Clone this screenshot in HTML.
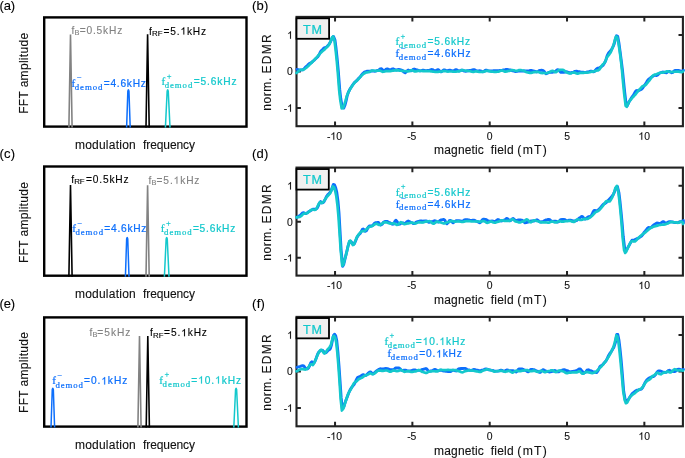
<!DOCTYPE html>
<html><head><meta charset="utf-8"><title>EDMR figure</title>
<style>html,body{margin:0;padding:0;background:#fff;overflow:hidden;}svg{display:block;will-change:transform;}text{font-kerning:none;}</style>
</head><body>
<svg width="685" height="458" viewBox="0 0 685 458">
<rect width="685" height="458" fill="#fff"/>
<text stroke="#000" stroke-width="0.12" x="-0.51" y="9.50" font-family="Liberation Sans" font-size="13" fill="#000" letter-spacing="-0.138">(a)</text>
<rect x="44.2" y="17.40" width="202.3" height="109.2" fill="none" stroke="#000" stroke-width="2.4"/>
<path d="M68.90,127.6 L70.50,34.60 L72.10,127.6" fill="none" stroke="#828282" stroke-width="1.6" stroke-linejoin="bevel"/>
<path d="M146.00,127.6 L147.60,34.30 L149.20,127.6" fill="none" stroke="#000" stroke-width="1.6" stroke-linejoin="bevel"/>
<path d="M126.60,127.6 L127.85,91.10 Q128.40,88.30 128.95,91.10 L130.20,127.6" fill="none" stroke="#0d6ffc" stroke-width="1.5" stroke-linejoin="round"/>
<path d="M165.40,127.6 L167.15,91.10 Q167.70,88.30 168.25,91.10 L170.00,127.6" fill="none" stroke="#14c8cc" stroke-width="1.5" stroke-linejoin="round"/>
<text stroke="#828282" stroke-width="0.12" x="71.56" y="33.70" font-family="Liberation Sans" font-size="10.2" fill="#828282">f</text>
<text stroke="#828282" stroke-width="0.12" x="74.49" y="34.70" font-family="Liberation Sans" font-size="7.4" fill="#828282">B</text>
<text stroke="#828282" stroke-width="0.12" x="79.70" y="33.70" font-family="Liberation Sans" font-size="10.2" fill="#828282" letter-spacing="0.817">=0.5kHz</text>
<text stroke="#000" stroke-width="0.12" x="149.06" y="34.60" font-family="Liberation Sans" font-size="10.2" fill="#000">f</text>
<text stroke="#000" stroke-width="0.12" x="151.95" y="36.20" font-family="Liberation Sans" font-size="7.9" fill="#000">RF</text>
<path transform="translate(180.47,34.60) scale(0.00498,-0.00498)" d="M763 0L583 0L583 1147C540 1106 483 1065 412 1024C342 983 279 952 223 931L223 1105C324 1152 412 1210 488 1278C563 1346 617 1412 648 1466L763 1466Z" fill="#000" stroke="#000" stroke-width="24.1"/>
<text stroke="#000" stroke-width="0.12" x="163.60" y="34.60" font-family="Liberation Sans" font-size="10.2" fill="#000" letter-spacing="0.801">=5.&#8199;kHz</text>
<text stroke="#0d6ffc" stroke-width="0.22" x="71.56" y="86.60" font-family="Liberation Serif" font-size="11.2" fill="#0d6ffc">f</text>
<text stroke="#0d6ffc" stroke-width="0.22" x="76.88" y="80.40" font-family="Liberation Serif" font-size="8.5" fill="#0d6ffc">&#8722;</text>
<text stroke="#0d6ffc" stroke-width="0.22" x="74.78" y="89.70" font-family="Liberation Serif" font-size="8.8" fill="#0d6ffc" letter-spacing="0.919">demod</text>
<text stroke="#0d6ffc" stroke-width="0.22" x="103.70" y="86.60" font-family="Liberation Sans" font-size="10.2" fill="#0d6ffc" letter-spacing="0.751">=4.6kHz</text>
<text stroke="#14c8cc" stroke-width="0.22" x="161.46" y="85.20" font-family="Liberation Serif" font-size="11.2" fill="#14c8cc">f</text>
<text stroke="#14c8cc" stroke-width="0.22" x="166.68" y="78.80" font-family="Liberation Serif" font-size="8.5" fill="#14c8cc">+</text>
<text stroke="#14c8cc" stroke-width="0.22" x="164.68" y="88.30" font-family="Liberation Serif" font-size="8.8" fill="#14c8cc" letter-spacing="0.919">demod</text>
<text stroke="#14c8cc" stroke-width="0.22" x="193.70" y="85.20" font-family="Liberation Sans" font-size="10.2" fill="#14c8cc" letter-spacing="0.884">=5.6kHz</text>
<text stroke="#111" stroke-width="0.12" x="74.90" y="148.70" font-family="Liberation Sans" font-size="12" fill="#111" letter-spacing="0.241">modulation</text>
<text stroke="#111" stroke-width="0.12" x="143.03" y="148.70" font-family="Liberation Sans" font-size="12" fill="#111" letter-spacing="-0.088">frequency</text>
<text stroke="#111" stroke-width="0.12" transform="translate(27.60,112.90) rotate(-90)" x="-0.98" y="0" font-family="Liberation Sans" font-size="12" fill="#111" letter-spacing="0.297">FFT amplitude</text>
<text stroke="#000" stroke-width="0.12" x="-0.51" y="157.90" font-family="Liberation Sans" font-size="13" fill="#000" letter-spacing="0.227">(c)</text>
<rect x="44.2" y="166.50" width="202.3" height="109.2" fill="none" stroke="#000" stroke-width="2.4"/>
<path d="M68.90,276.7 L70.50,185.00 L72.10,276.7" fill="none" stroke="#000" stroke-width="1.6" stroke-linejoin="bevel"/>
<path d="M146.00,276.7 L147.60,185.20 L149.20,276.7" fill="none" stroke="#828282" stroke-width="1.6" stroke-linejoin="bevel"/>
<path d="M125.40,276.7 L126.65,238.90 Q127.20,236.10 127.75,238.90 L129.00,276.7" fill="none" stroke="#0d6ffc" stroke-width="1.5" stroke-linejoin="round"/>
<path d="M164.40,276.7 L166.15,238.90 Q166.70,236.10 167.25,238.90 L169.00,276.7" fill="none" stroke="#14c8cc" stroke-width="1.5" stroke-linejoin="round"/>
<text stroke="#000" stroke-width="0.12" x="71.26" y="182.50" font-family="Liberation Sans" font-size="10.2" fill="#000">f</text>
<text stroke="#000" stroke-width="0.12" x="74.15" y="184.10" font-family="Liberation Sans" font-size="7.9" fill="#000">RF</text>
<text stroke="#000" stroke-width="0.12" x="85.90" y="182.50" font-family="Liberation Sans" font-size="10.2" fill="#000" letter-spacing="0.851">=0.5kHz</text>
<text stroke="#828282" stroke-width="0.12" x="148.56" y="183.80" font-family="Liberation Sans" font-size="10.2" fill="#828282">f</text>
<text stroke="#828282" stroke-width="0.12" x="151.49" y="184.80" font-family="Liberation Sans" font-size="7.4" fill="#828282">B</text>
<path transform="translate(173.62,183.80) scale(0.00498,-0.00498)" d="M763 0L583 0L583 1147C540 1106 483 1065 412 1024C342 983 279 952 223 931L223 1105C324 1152 412 1210 488 1278C563 1346 617 1412 648 1466L763 1466Z" fill="#828282" stroke="#828282" stroke-width="24.1"/>
<text stroke="#828282" stroke-width="0.12" x="156.50" y="183.80" font-family="Liberation Sans" font-size="10.2" fill="#828282" letter-spacing="0.884">=5.&#8199;kHz</text>
<text stroke="#0d6ffc" stroke-width="0.22" x="72.26" y="232.20" font-family="Liberation Serif" font-size="11.2" fill="#0d6ffc">f</text>
<text stroke="#0d6ffc" stroke-width="0.22" x="77.58" y="226.00" font-family="Liberation Serif" font-size="8.5" fill="#0d6ffc">&#8722;</text>
<text stroke="#0d6ffc" stroke-width="0.22" x="75.48" y="235.30" font-family="Liberation Serif" font-size="8.8" fill="#0d6ffc" letter-spacing="0.919">demod</text>
<text stroke="#0d6ffc" stroke-width="0.22" x="104.30" y="232.20" font-family="Liberation Sans" font-size="10.2" fill="#0d6ffc" letter-spacing="0.751">=4.6kHz</text>
<text stroke="#14c8cc" stroke-width="0.22" x="160.86" y="232.30" font-family="Liberation Serif" font-size="11.2" fill="#14c8cc">f</text>
<text stroke="#14c8cc" stroke-width="0.22" x="166.08" y="225.90" font-family="Liberation Serif" font-size="8.5" fill="#14c8cc">+</text>
<text stroke="#14c8cc" stroke-width="0.22" x="164.08" y="235.40" font-family="Liberation Serif" font-size="8.8" fill="#14c8cc" letter-spacing="0.919">demod</text>
<text stroke="#14c8cc" stroke-width="0.22" x="192.90" y="232.30" font-family="Liberation Sans" font-size="10.2" fill="#14c8cc" letter-spacing="0.784">=5.6kHz</text>
<text stroke="#111" stroke-width="0.12" x="74.90" y="297.80" font-family="Liberation Sans" font-size="12" fill="#111" letter-spacing="0.241">modulation</text>
<text stroke="#111" stroke-width="0.12" x="143.03" y="297.80" font-family="Liberation Sans" font-size="12" fill="#111" letter-spacing="-0.088">frequency</text>
<text stroke="#111" stroke-width="0.12" transform="translate(27.60,262.10) rotate(-90)" x="-0.98" y="0" font-family="Liberation Sans" font-size="12" fill="#111" letter-spacing="0.297">FFT amplitude</text>
<text stroke="#000" stroke-width="0.12" x="-0.51" y="307.50" font-family="Liberation Sans" font-size="13" fill="#000" letter-spacing="-0.138">(e)</text>
<rect x="44.2" y="317.40" width="202.3" height="109.2" fill="none" stroke="#000" stroke-width="2.4"/>
<path d="M137.90,427.6 L139.50,335.90 L141.10,427.6" fill="none" stroke="#828282" stroke-width="1.6" stroke-linejoin="bevel"/>
<path d="M146.20,427.6 L147.80,336.00 L149.40,427.6" fill="none" stroke="#000" stroke-width="1.6" stroke-linejoin="bevel"/>
<path d="M51.00,427.6 L52.25,389.70 Q52.80,386.90 53.35,389.70 L54.60,427.6" fill="none" stroke="#0d6ffc" stroke-width="1.5" stroke-linejoin="round"/>
<path d="M233.80,427.6 L235.55,389.70 Q236.10,386.90 236.65,389.70 L238.40,427.6" fill="none" stroke="#14c8cc" stroke-width="1.5" stroke-linejoin="round"/>
<text stroke="#828282" stroke-width="0.12" x="89.46" y="336.20" font-family="Liberation Sans" font-size="10.2" fill="#828282">f</text>
<text stroke="#828282" stroke-width="0.12" x="92.39" y="337.20" font-family="Liberation Sans" font-size="7.4" fill="#828282">B</text>
<text stroke="#828282" stroke-width="0.12" x="97.30" y="336.20" font-family="Liberation Sans" font-size="10.2" fill="#828282" letter-spacing="1.003">=5kHz</text>
<text stroke="#000" stroke-width="0.12" x="150.06" y="336.30" font-family="Liberation Sans" font-size="10.2" fill="#000">f</text>
<text stroke="#000" stroke-width="0.12" x="152.95" y="337.90" font-family="Liberation Sans" font-size="7.9" fill="#000">RF</text>
<path transform="translate(181.17,336.30) scale(0.00498,-0.00498)" d="M763 0L583 0L583 1147C540 1106 483 1065 412 1024C342 983 279 952 223 931L223 1105C324 1152 412 1210 488 1278C563 1346 617 1412 648 1466L763 1466Z" fill="#000" stroke="#000" stroke-width="24.1"/>
<text stroke="#000" stroke-width="0.12" x="164.10" y="336.30" font-family="Liberation Sans" font-size="10.2" fill="#000" letter-spacing="0.867">=5.&#8199;kHz</text>
<text stroke="#0d6ffc" stroke-width="0.22" x="52.16" y="384.40" font-family="Liberation Serif" font-size="11.2" fill="#0d6ffc">f</text>
<text stroke="#0d6ffc" stroke-width="0.22" x="57.48" y="378.20" font-family="Liberation Serif" font-size="8.5" fill="#0d6ffc">&#8722;</text>
<text stroke="#0d6ffc" stroke-width="0.22" x="55.38" y="387.50" font-family="Liberation Serif" font-size="8.8" fill="#0d6ffc" letter-spacing="0.919">demod</text>
<path transform="translate(101.32,384.40) scale(0.00498,-0.00498)" d="M763 0L583 0L583 1147C540 1106 483 1065 412 1024C342 983 279 952 223 931L223 1105C324 1152 412 1210 488 1278C563 1346 617 1412 648 1466L763 1466Z" fill="#0d6ffc" stroke="#0d6ffc" stroke-width="44.2"/>
<text stroke="#0d6ffc" stroke-width="0.22" x="84.10" y="384.40" font-family="Liberation Sans" font-size="10.2" fill="#0d6ffc" letter-spacing="0.917">=0.&#8199;kHz</text>
<text stroke="#14c8cc" stroke-width="0.22" x="159.36" y="383.50" font-family="Liberation Serif" font-size="11.2" fill="#14c8cc">f</text>
<text stroke="#14c8cc" stroke-width="0.22" x="164.58" y="377.10" font-family="Liberation Serif" font-size="8.5" fill="#14c8cc">+</text>
<text stroke="#14c8cc" stroke-width="0.22" x="162.58" y="386.60" font-family="Liberation Serif" font-size="8.8" fill="#14c8cc" letter-spacing="0.919">demod</text>
<path transform="translate(198.18,383.50) scale(0.00498,-0.00498)" d="M763 0L583 0L583 1147C540 1106 483 1065 412 1024C342 983 279 952 223 931L223 1105C324 1152 412 1210 488 1278C563 1346 617 1412 648 1466L763 1466Z" fill="#14c8cc" stroke="#14c8cc" stroke-width="44.2"/>
<path transform="translate(215.11,383.50) scale(0.00498,-0.00498)" d="M763 0L583 0L583 1147C540 1106 483 1065 412 1024C342 983 279 952 223 931L223 1105C324 1152 412 1210 488 1278C563 1346 617 1412 648 1466L763 1466Z" fill="#14c8cc" stroke="#14c8cc" stroke-width="44.2"/>
<text stroke="#14c8cc" stroke-width="0.22" x="191.30" y="383.50" font-family="Liberation Sans" font-size="10.2" fill="#14c8cc" letter-spacing="0.919">=&#8199;0.&#8199;kHz</text>
<text stroke="#111" stroke-width="0.12" x="74.90" y="448.60" font-family="Liberation Sans" font-size="12" fill="#111" letter-spacing="0.241">modulation</text>
<text stroke="#111" stroke-width="0.12" x="143.03" y="448.60" font-family="Liberation Sans" font-size="12" fill="#111" letter-spacing="-0.088">frequency</text>
<text stroke="#111" stroke-width="0.12" transform="translate(27.60,412.00) rotate(-90)" x="-0.98" y="0" font-family="Liberation Sans" font-size="12" fill="#111" letter-spacing="0.297">FFT amplitude</text>
<text stroke="#000" stroke-width="0.12" x="252.09" y="9.50" font-family="Liberation Sans" font-size="13" fill="#000" letter-spacing="0.162">(b)</text>
<clipPath id="clipb"><rect x="294.5" y="16.9" width="390.4" height="109.30000000000001"/></clipPath>
<rect x="296.5" y="16.9" width="386.40" height="109.30" fill="none" stroke="#222222" stroke-width="2.1"/>
<path transform="translate(330.37,139.70) scale(0.00508,-0.00508)" d="M763 0L583 0L583 1147C540 1106 483 1065 412 1024C342 983 279 952 223 931L223 1105C324 1152 412 1210 488 1278C563 1346 617 1412 648 1466L763 1466Z" fill="#111" stroke="#111" stroke-width="23.6"/>
<text stroke="#111" stroke-width="0.12" x="326.91" y="139.70" font-family="Liberation Sans" font-size="10.4" fill="#111">-&#8199;0</text>
<text stroke="#111" stroke-width="0.12" x="407.14" y="139.70" font-family="Liberation Sans" font-size="10.4" fill="#111">-5</text>
<text stroke="#111" stroke-width="0.12" x="486.81" y="139.70" font-family="Liberation Sans" font-size="10.4" fill="#111">0</text>
<text stroke="#111" stroke-width="0.12" x="564.14" y="139.70" font-family="Liberation Sans" font-size="10.4" fill="#111">5</text>
<path transform="translate(638.37,139.70) scale(0.00508,-0.00508)" d="M763 0L583 0L583 1147C540 1106 483 1065 412 1024C342 983 279 952 223 931L223 1105C324 1152 412 1210 488 1278C563 1346 617 1412 648 1466L763 1466Z" fill="#111" stroke="#111" stroke-width="23.6"/>
<text stroke="#111" stroke-width="0.12" x="638.37" y="139.70" font-family="Liberation Sans" font-size="10.4" fill="#111">&#8199;0</text>
<path transform="translate(287.12,38.80) scale(0.00508,-0.00508)" d="M763 0L583 0L583 1147C540 1106 483 1065 412 1024C342 983 279 952 223 931L223 1105C324 1152 412 1210 488 1278C563 1346 617 1412 648 1466L763 1466Z" fill="#111" stroke="#111" stroke-width="23.6"/>
<text stroke="#111" stroke-width="0.12" x="287.12" y="38.80" font-family="Liberation Sans" font-size="10.4" fill="#111">&#8199;</text>
<text stroke="#111" stroke-width="0.12" x="287.02" y="75.30" font-family="Liberation Sans" font-size="10.4" fill="#111">0</text>
<path transform="translate(287.12,111.80) scale(0.00508,-0.00508)" d="M763 0L583 0L583 1147C540 1106 483 1065 412 1024C342 983 279 952 223 931L223 1105C324 1152 412 1210 488 1278C563 1346 617 1412 648 1466L763 1466Z" fill="#111" stroke="#111" stroke-width="23.6"/>
<text stroke="#111" stroke-width="0.12" x="283.66" y="111.80" font-family="Liberation Sans" font-size="10.4" fill="#111">-&#8199;</text>
<path d="M335.05,126.2 v-4.6 M335.05,16.9 v4.6 M412.38,126.2 v-4.6 M412.38,16.9 v4.6 M489.70,126.2 v-4.6 M489.70,16.9 v4.6 M567.02,126.2 v-4.6 M567.02,16.9 v4.6 M644.35,126.2 v-4.6 M644.35,16.9 v4.6 M296.5,35.00 h4.4 M682.9,35.00 h-4.4 M296.5,71.50 h4.4 M682.9,71.50 h-4.4 M296.5,108.00 h4.4 M682.9,108.00 h-4.4" stroke="#222222" stroke-width="2.0" fill="none"/>
<g clip-path="url(#clipb)">
<path d="M297.00,69.41 L298.16,69.58 L299.24,70.05 L300.44,69.99 L301.69,69.92 L302.86,69.72 L303.96,68.93 L305.05,67.65 L306.12,66.69 L307.18,65.73 L308.24,64.58 L309.30,63.65 L310.36,63.14 L311.41,62.63 L312.46,61.67 L313.51,60.75 L314.57,59.81 L315.64,58.73 L316.72,57.77 L317.82,56.70 L318.91,55.02 L319.97,52.76 L321.00,51.12 L322.09,49.97 L323.15,48.90 L324.18,47.91 L325.64,47.42 L326.66,46.99 L327.73,45.85 L328.73,44.59 L330.10,42.56 L331.38,39.90 L332.50,37.40 L333.55,36.42 L335.00,40.10 L336.06,48.28 L337.19,58.96 L338.25,70.34 L339.70,89.14 L340.73,98.34 L342.20,106.99 L343.72,108.05 L344.94,105.28 L346.10,100.89 L347.10,96.13 L348.50,91.98 L349.89,89.26 L350.98,87.48 L352.13,85.75 L353.29,84.01 L354.40,82.53 L355.49,81.60 L356.59,80.74 L357.69,79.52 L358.76,78.33 L359.80,77.21 L360.89,75.95 L362.00,74.49 L363.07,73.27 L364.12,72.38 L365.20,71.76 L366.70,71.25 L367.70,71.21 L368.70,71.23 L370.20,71.21 L371.26,71.07 L372.64,70.97 L373.66,71.09 L375.10,71.18 L376.42,70.80 L377.56,70.42 L378.79,70.08 L380.13,68.96 L381.55,68.79 L383.05,70.24 L384.08,70.71 L385.15,70.12 L386.23,69.16 L387.34,68.91 L388.46,69.38 L389.59,69.88 L390.74,69.76 L391.90,69.14 L393.06,68.80 L394.22,69.24 L395.38,69.92 L396.53,70.00 L397.68,69.66 L398.82,69.39 L399.94,69.58 L400.96,70.01 L402.37,70.33 L403.79,71.95 L405.23,72.84 L406.69,71.19 L408.17,70.07 L409.66,70.53 L411.16,70.85 L412.17,70.27 L413.18,69.37 L414.19,69.07 L415.21,69.38 L416.23,69.83 L417.26,70.00 L418.28,70.31 L419.30,70.72 L420.33,70.81 L421.36,70.57 L422.38,70.28 L423.40,70.24 L424.43,70.42 L425.45,70.61 L426.46,70.63 L427.48,70.54 L428.49,70.45 L429.50,70.37 L430.50,69.97 L431.50,69.56 L432.50,69.58 L433.50,70.16 L434.50,70.73 L435.50,70.74 L436.50,70.23 L437.50,69.72 L438.50,69.78 L439.50,70.76 L440.50,71.74 L441.50,71.75 L442.50,70.86 L443.50,69.98 L444.50,69.90 L445.50,70.33 L446.50,70.75 L447.50,70.77 L448.50,70.51 L449.50,70.25 L450.50,70.25 L451.50,70.59 L452.50,70.94 L453.50,70.89 L454.50,70.31 L455.50,69.74 L456.50,69.73 L457.50,70.32 L458.50,70.91 L459.50,70.93 L460.50,70.52 L461.50,70.11 L462.50,70.13 L463.50,70.65 L464.50,71.16 L465.50,71.21 L466.50,70.99 L467.50,70.76 L468.50,70.71 L469.50,70.54 L470.50,70.38 L471.50,70.31 L472.50,69.99 L473.50,69.66 L474.50,69.71 L475.50,70.29 L476.50,70.88 L477.50,70.96 L478.50,70.87 L479.50,70.77 L480.50,70.83 L481.50,71.28 L482.50,71.72 L483.50,71.68 L484.50,70.95 L485.50,70.22 L486.50,70.16 L487.50,70.51 L488.50,70.86 L489.50,70.92 L490.50,70.90 L491.51,70.89 L492.52,70.87 L493.55,70.78 L494.58,70.69 L495.62,70.67 L496.66,70.64 L497.71,70.60 L498.76,70.59 L499.81,70.57 L500.87,70.55 L501.93,70.40 L502.98,70.04 L504.03,69.86 L505.08,69.74 L506.12,69.55 L507.16,69.47 L508.20,69.64 L509.22,69.89 L510.24,69.98 L511.24,70.26 L512.73,70.76 L514.19,71.03 L515.61,71.51 L517.00,71.42 L518.35,71.13 L519.66,71.09 L521.12,71.14 L522.35,71.14 L523.57,71.03 L524.76,70.93 L525.93,70.92 L527.08,70.89 L528.20,70.88 L529.30,70.72 L530.38,70.52 L531.42,70.51 L532.44,70.74 L533.92,71.03 L535.32,71.41 L536.65,71.93 L537.90,71.64 L539.07,70.67 L540.16,70.34 L541.40,70.32 L542.84,70.38 L543.92,71.15 L545.11,72.93 L546.17,73.75 L547.50,73.19 L548.95,72.35 L549.96,72.32 L550.98,72.41 L552.02,72.32 L553.04,72.04 L554.05,71.76 L555.50,71.38 L556.55,70.47 L557.57,69.63 L559.06,70.27 L560.53,72.24 L562.00,72.33 L563.00,72.17 L564.02,72.25 L565.04,72.17 L566.06,71.81 L567.07,71.83 L568.55,72.50 L570.04,72.93 L571.09,72.78 L572.12,72.43 L573.61,72.06 L575.04,71.32 L576.52,71.13 L577.88,71.57 L579.33,71.80 L580.50,71.96 L581.93,72.09 L582.99,72.18 L584.11,72.44 L585.24,72.48 L586.36,72.24 L587.42,71.98 L589.01,71.66 L590.15,71.28 L591.22,71.13 L592.24,71.42 L593.25,71.77 L594.30,71.56 L595.39,70.33 L596.49,68.85 L597.59,68.15 L598.66,68.05 L599.70,67.78 L600.80,66.98 L602.01,66.10 L603.17,65.06 L604.22,63.52 L605.78,60.31 L607.20,55.76 L608.61,52.98 L609.70,51.69 L610.74,50.65 L611.86,48.93 L613.03,46.55 L614.10,44.15 L615.36,39.35 L616.50,35.78 L617.67,36.35 L618.89,42.68 L620.07,51.33 L621.28,60.74 L622.47,70.22 L623.60,81.40 L624.70,92.26 L626.17,104.79 L627.25,105.74 L628.38,103.28 L629.70,100.69 L631.20,98.33 L632.31,96.64 L633.60,94.94 L635.06,92.11 L636.15,90.64 L637.27,90.55 L638.40,90.86 L639.50,90.12 L640.57,89.65 L641.65,89.13 L642.72,87.95 L643.79,86.30 L644.86,84.85 L645.94,83.40 L647.01,81.42 L648.08,79.90 L649.15,78.94 L650.23,78.11 L651.30,77.21 L652.35,76.51 L653.37,75.89 L654.39,75.20 L655.45,75.29 L656.59,75.56 L657.66,75.00 L659.09,73.46 L660.59,72.75 L661.64,72.37 L662.72,72.04 L663.84,72.11 L665.00,72.67 L666.46,72.75 L667.49,72.06 L668.55,71.37 L669.63,71.42 L670.72,72.21 L671.80,72.78 L672.86,72.34 L673.90,71.17 L675.45,70.43 L676.61,70.43 L677.79,70.40 L678.96,70.53 L680.10,70.99 L681.15,71.10 L682.51,71.26 L683.50,70.25" fill="none" stroke="#0d6ffc" stroke-width="2.9" stroke-linejoin="round" stroke-linecap="round"/>
<path d="M296.50,72.96 L297.66,72.18 L298.74,70.98 L299.94,70.03 L301.19,69.86 L302.36,69.91 L303.46,69.68 L304.55,69.05 L305.62,68.23 L306.68,67.36 L307.74,66.52 L308.80,65.53 L309.86,64.42 L310.91,63.31 L311.96,62.27 L313.01,61.23 L314.07,60.14 L315.14,58.99 L316.22,57.78 L317.32,56.53 L318.41,55.27 L319.47,54.13 L320.50,53.12 L321.59,52.06 L322.65,51.07 L323.68,50.22 L325.14,48.89 L326.16,47.85 L327.23,46.85 L328.23,45.84 L329.60,43.86 L330.88,40.55 L332.00,37.41 L333.05,36.42 L334.50,40.72 L335.56,49.22 L336.69,60.21 L337.75,71.91 L339.20,90.64 L340.23,99.88 L341.70,108.43 L343.22,107.94 L344.44,104.19 L345.60,100.42 L346.60,96.81 L348.00,93.08 L349.39,90.35 L350.48,88.58 L351.63,86.86 L352.79,85.10 L353.90,83.50 L354.99,82.23 L356.09,81.32 L357.19,80.40 L358.26,79.23 L359.30,78.08 L360.39,76.88 L361.50,75.64 L362.57,74.61 L363.62,73.79 L364.70,73.12 L366.20,72.54 L367.20,72.37 L368.20,72.28 L369.70,71.87 L370.76,71.10 L372.14,70.60 L373.16,70.62 L374.60,70.78 L375.92,70.82 L377.06,70.72 L378.29,70.57 L379.63,70.53 L381.05,71.13 L382.55,71.80 L383.58,71.76 L384.65,71.47 L385.73,71.16 L386.84,71.08 L387.96,71.12 L389.09,71.18 L390.24,71.20 L391.40,71.01 L392.56,70.69 L393.72,70.53 L394.88,70.47 L396.03,70.35 L397.18,70.29 L398.32,70.37 L399.44,70.58 L400.46,70.72 L401.87,70.79 L403.29,70.98 L404.73,71.07 L406.19,71.25 L407.67,71.45 L409.16,71.22 L410.66,70.47 L411.67,70.24 L412.68,70.46 L413.69,70.96 L414.71,71.39 L415.73,71.45 L416.76,71.23 L417.78,70.91 L418.80,70.76 L419.83,70.81 L420.86,70.91 L421.88,71.00 L422.90,71.03 L423.93,71.07 L424.95,71.14 L425.96,71.17 L426.98,71.17 L427.99,71.15 L429.00,71.13 L430.00,71.14 L431.00,71.29 L432.00,71.53 L433.00,71.69 L434.00,71.72 L435.00,71.81 L436.00,71.91 L437.00,71.94 L438.00,71.86 L439.00,71.71 L440.00,71.59 L441.00,71.54 L442.00,71.35 L443.00,71.10 L444.00,70.97 L445.00,71.05 L446.00,71.28 L447.00,71.50 L448.00,71.54 L449.00,71.52 L450.00,71.50 L451.00,71.48 L452.00,71.50 L453.00,71.61 L454.00,71.73 L455.00,71.77 L456.00,71.68 L457.00,71.52 L458.00,71.39 L459.00,71.32 L460.00,70.93 L461.00,70.43 L462.00,70.18 L463.00,70.26 L464.00,70.49 L465.00,70.69 L466.00,70.76 L467.00,70.83 L468.00,70.94 L469.00,71.01 L470.00,71.10 L471.00,71.43 L472.00,71.78 L473.00,71.92 L474.00,71.79 L475.00,71.52 L476.00,71.31 L477.00,71.33 L478.00,71.56 L479.00,71.85 L480.00,72.01 L481.00,71.96 L482.00,71.82 L483.00,71.68 L484.00,71.64 L485.00,71.39 L486.00,71.00 L487.00,70.75 L488.00,70.81 L489.00,71.10 L490.00,71.42 L491.01,71.54 L492.02,71.61 L493.05,71.74 L494.08,71.84 L495.12,71.84 L496.16,71.80 L497.21,71.75 L498.26,71.73 L499.31,71.41 L500.37,70.87 L501.43,70.51 L502.48,70.62 L503.53,71.10 L504.58,71.57 L505.62,71.66 L506.66,71.46 L507.70,71.16 L508.72,70.99 L509.74,70.85 L510.74,70.46 L512.23,69.99 L513.69,70.21 L515.11,70.77 L516.50,70.91 L517.85,70.51 L519.16,70.09 L520.62,70.11 L521.85,70.34 L523.07,70.50 L524.26,70.79 L525.43,71.63 L526.58,72.23 L527.70,72.35 L528.80,72.64 L529.88,72.90 L530.92,72.93 L531.94,72.67 L533.42,72.19 L534.82,72.10 L536.15,71.94 L537.40,71.84 L538.57,72.02 L539.66,72.49 L540.90,72.98 L542.34,73.05 L543.42,72.90 L544.61,73.01 L545.67,73.27 L547.00,72.99 L548.45,72.57 L549.46,72.24 L550.48,71.62 L551.52,71.03 L552.54,70.79 L553.55,71.23 L555.00,72.19 L556.05,72.21 L557.07,71.51 L558.56,70.21 L560.03,69.92 L561.50,69.75 L562.50,69.75 L563.52,70.06 L564.54,70.86 L565.56,71.77 L566.57,72.32 L568.05,72.91 L569.54,73.36 L570.59,73.36 L571.62,73.09 L573.11,72.57 L574.54,72.53 L576.02,73.21 L577.38,73.59 L578.83,73.33 L580.00,72.95 L581.43,72.78 L582.49,72.78 L583.61,72.78 L584.74,72.72 L585.86,72.68 L586.92,72.65 L588.51,72.52 L589.65,72.21 L590.72,71.86 L591.74,71.64 L592.75,71.56 L593.80,71.45 L594.89,71.14 L595.99,70.68 L597.09,70.54 L598.16,70.34 L599.20,69.66 L600.30,68.12 L601.51,66.05 L602.67,64.59 L603.72,63.63 L605.28,61.61 L606.70,57.63 L608.11,55.75 L609.20,54.50 L610.24,53.06 L611.36,50.80 L612.53,47.85 L613.60,44.87 L614.86,39.98 L616.00,36.43 L617.17,36.92 L618.39,42.69 L619.57,50.33 L620.78,59.43 L621.97,70.20 L623.10,82.79 L624.20,93.78 L625.67,105.85 L626.75,106.76 L627.88,104.13 L629.20,101.49 L630.70,99.75 L631.81,98.46 L633.10,96.98 L634.56,95.39 L635.65,94.21 L636.77,92.69 L637.90,91.19 L639.00,90.02 L640.07,88.83 L641.15,87.61 L642.22,86.48 L643.29,85.87 L644.36,85.66 L645.44,85.13 L646.51,83.97 L647.58,82.60 L648.65,81.26 L649.73,80.10 L650.80,78.52 L651.85,76.82 L652.87,75.58 L653.89,74.94 L654.95,74.63 L656.09,74.35 L657.16,73.88 L658.59,73.22 L660.09,72.75 L661.14,72.61 L662.22,72.54 L663.34,72.46 L664.50,72.24 L665.96,71.67 L666.99,71.39 L668.05,71.40 L669.13,71.70 L670.22,71.99 L671.30,72.01 L672.36,71.94 L673.40,71.86 L674.95,71.75 L676.11,71.72 L677.29,71.70 L678.46,71.63 L679.60,71.80 L680.65,72.06 L682.01,72.08 L683.00,71.35" fill="none" stroke="#14c8cc" stroke-width="2.7" stroke-linejoin="round" stroke-linecap="round"/>
</g>
<text stroke="#14c8cc" stroke-width="0.22" x="395.56" y="45.20" font-family="Liberation Serif" font-size="11.2" fill="#14c8cc">f</text>
<text stroke="#14c8cc" stroke-width="0.22" x="400.58" y="38.50" font-family="Liberation Serif" font-size="8.5" fill="#14c8cc">+</text>
<text stroke="#14c8cc" stroke-width="0.22" x="398.78" y="47.90" font-family="Liberation Serif" font-size="8.8" fill="#14c8cc" letter-spacing="0.844">demod</text>
<text stroke="#14c8cc" stroke-width="0.22" x="427.50" y="45.20" font-family="Liberation Sans" font-size="10.2" fill="#14c8cc" letter-spacing="0.817">=5.6kHz</text>
<text stroke="#0d6ffc" stroke-width="0.22" x="395.56" y="57.10" font-family="Liberation Serif" font-size="11.2" fill="#0d6ffc">f</text>
<text stroke="#0d6ffc" stroke-width="0.22" x="401.08" y="50.70" font-family="Liberation Serif" font-size="8.5" fill="#0d6ffc">&#8722;</text>
<text stroke="#0d6ffc" stroke-width="0.22" x="398.78" y="59.80" font-family="Liberation Serif" font-size="8.8" fill="#0d6ffc" letter-spacing="0.844">demod</text>
<text stroke="#0d6ffc" stroke-width="0.22" x="427.50" y="57.10" font-family="Liberation Sans" font-size="10.2" fill="#0d6ffc" letter-spacing="0.917">=4.6kHz</text>
<rect x="296.5" y="18.3" width="32.6" height="20.5" fill="#f0f0f0" stroke="#000" stroke-width="1.8"/>
<text stroke="#14c8cc" stroke-width="0.22" x="302.92" y="33.60" font-family="Liberation Sans" font-size="12.6" fill="#14c8cc" letter-spacing="0.924">TM</text>
<text stroke="#111" stroke-width="0.12" x="434.10" y="153.50" font-family="Liberation Sans" font-size="12" fill="#111" letter-spacing="0.146">magnetic</text>
<text stroke="#111" stroke-width="0.12" x="490.73" y="153.50" font-family="Liberation Sans" font-size="12" fill="#111" letter-spacing="0.207">field</text>
<text stroke="#111" stroke-width="0.12" x="517.34" y="153.50" font-family="Liberation Sans" font-size="12.2" fill="#111" letter-spacing="1.291">(mT)</text>
<text stroke="#111" stroke-width="0.12" transform="translate(271.10,110.00) rotate(-90)" x="-0.80" y="0" font-family="Liberation Sans" font-size="12" fill="#111" letter-spacing="0.605">norm.</text>
<text stroke="#111" stroke-width="0.12" transform="translate(271.10,72.50) rotate(-90)" x="-0.98" y="0" font-family="Liberation Sans" font-size="12" fill="#111" letter-spacing="1.303">EDMR</text>
<text stroke="#000" stroke-width="0.12" x="252.09" y="157.90" font-family="Liberation Sans" font-size="13" fill="#000" letter-spacing="0.162">(d)</text>
<clipPath id="clipd"><rect x="294.5" y="167.6" width="390.4" height="108.00000000000003"/></clipPath>
<rect x="296.5" y="167.6" width="386.40" height="108.00" fill="none" stroke="#222222" stroke-width="2.1"/>
<path transform="translate(330.37,289.10) scale(0.00508,-0.00508)" d="M763 0L583 0L583 1147C540 1106 483 1065 412 1024C342 983 279 952 223 931L223 1105C324 1152 412 1210 488 1278C563 1346 617 1412 648 1466L763 1466Z" fill="#111" stroke="#111" stroke-width="23.6"/>
<text stroke="#111" stroke-width="0.12" x="326.91" y="289.10" font-family="Liberation Sans" font-size="10.4" fill="#111">-&#8199;0</text>
<text stroke="#111" stroke-width="0.12" x="407.14" y="289.10" font-family="Liberation Sans" font-size="10.4" fill="#111">-5</text>
<text stroke="#111" stroke-width="0.12" x="486.81" y="289.10" font-family="Liberation Sans" font-size="10.4" fill="#111">0</text>
<text stroke="#111" stroke-width="0.12" x="564.14" y="289.10" font-family="Liberation Sans" font-size="10.4" fill="#111">5</text>
<path transform="translate(638.37,289.10) scale(0.00508,-0.00508)" d="M763 0L583 0L583 1147C540 1106 483 1065 412 1024C342 983 279 952 223 931L223 1105C324 1152 412 1210 488 1278C563 1346 617 1412 648 1466L763 1466Z" fill="#111" stroke="#111" stroke-width="23.6"/>
<text stroke="#111" stroke-width="0.12" x="638.37" y="289.10" font-family="Liberation Sans" font-size="10.4" fill="#111">&#8199;0</text>
<path transform="translate(287.12,189.50) scale(0.00508,-0.00508)" d="M763 0L583 0L583 1147C540 1106 483 1065 412 1024C342 983 279 952 223 931L223 1105C324 1152 412 1210 488 1278C563 1346 617 1412 648 1466L763 1466Z" fill="#111" stroke="#111" stroke-width="23.6"/>
<text stroke="#111" stroke-width="0.12" x="287.12" y="189.50" font-family="Liberation Sans" font-size="10.4" fill="#111">&#8199;</text>
<text stroke="#111" stroke-width="0.12" x="287.02" y="225.55" font-family="Liberation Sans" font-size="10.4" fill="#111">0</text>
<path transform="translate(287.12,261.60) scale(0.00508,-0.00508)" d="M763 0L583 0L583 1147C540 1106 483 1065 412 1024C342 983 279 952 223 931L223 1105C324 1152 412 1210 488 1278C563 1346 617 1412 648 1466L763 1466Z" fill="#111" stroke="#111" stroke-width="23.6"/>
<text stroke="#111" stroke-width="0.12" x="283.66" y="261.60" font-family="Liberation Sans" font-size="10.4" fill="#111">-&#8199;</text>
<path d="M335.05,275.6 v-4.6 M335.05,167.6 v4.6 M412.38,275.6 v-4.6 M412.38,167.6 v4.6 M489.70,275.6 v-4.6 M489.70,167.6 v4.6 M567.02,275.6 v-4.6 M567.02,167.6 v4.6 M644.35,275.6 v-4.6 M644.35,167.6 v4.6 M296.5,185.70 h4.4 M682.9,185.70 h-4.4 M296.5,221.75 h4.4 M682.9,221.75 h-4.4 M296.5,257.80 h4.4 M682.9,257.80 h-4.4" stroke="#222222" stroke-width="2.0" fill="none"/>
<g clip-path="url(#clipd)">
<path d="M297.00,217.26 L298.10,216.60 L299.12,215.88 L300.27,215.21 L301.47,214.04 L302.65,212.87 L303.73,212.63 L304.82,213.30 L305.99,213.54 L307.09,212.86 L308.11,212.07 L309.50,211.28 L310.78,210.58 L311.84,209.90 L312.90,209.30 L313.99,209.12 L315.07,209.14 L316.20,208.99 L317.28,207.93 L318.42,205.52 L319.51,202.93 L320.58,201.66 L322.07,202.91 L323.17,202.55 L324.25,201.24 L325.41,198.82 L326.56,196.33 L327.69,194.87 L328.86,193.64 L329.97,192.49 L331.00,191.01 L332.23,187.46 L333.34,184.38 L334.49,184.81 L335.69,187.87 L336.80,192.44 L337.98,201.09 L339.00,212.95 L340.13,232.61 L341.15,250.35 L342.70,266.27 L343.74,264.40 L344.94,259.14 L346.10,254.31 L347.17,249.97 L348.20,245.49 L349.74,241.19 L350.90,241.44 L352.29,243.44 L353.35,244.38 L354.38,243.69 L355.88,240.23 L356.95,237.49 L358.00,235.69 L359.06,234.58 L360.14,233.51 L361.20,231.65 L362.24,229.55 L363.28,228.89 L364.28,230.02 L365.30,231.34 L366.36,230.76 L367.42,228.75 L368.48,226.78 L369.49,225.98 L370.87,225.95 L371.90,225.93 L372.93,225.20 L374.41,223.34 L375.48,222.76 L376.54,222.57 L377.54,222.45 L378.59,222.55 L379.70,223.92 L380.73,225.06 L382.20,224.31 L383.46,222.25 L384.97,221.40 L386.16,221.39 L387.35,221.53 L388.70,222.28 L390.20,222.92 L391.28,223.48 L392.41,224.19 L393.61,223.97 L394.86,221.51 L395.91,220.16 L397.20,221.64 L398.53,224.21 L399.92,224.10 L401.37,223.09 L402.86,222.98 L403.89,223.27 L404.93,223.41 L406.00,222.79 L407.10,221.56 L408.21,221.06 L409.34,221.61 L410.50,222.32 L411.84,222.63 L413.23,223.55 L414.66,223.49 L416.13,222.11 L417.63,221.62 L418.65,221.30 L419.67,221.03 L420.70,221.00 L421.74,221.07 L422.78,221.12 L423.82,221.07 L424.86,220.98 L425.90,220.91 L426.94,221.21 L427.97,221.94 L428.99,222.31 L430.00,222.11 L431.49,221.61 L432.93,221.36 L434.34,220.81 L435.73,220.88 L437.10,221.80 L438.48,221.94 L439.88,220.58 L441.30,219.89 L442.76,219.63 L443.76,219.47 L444.80,220.17 L445.86,222.43 L446.96,223.80 L448.09,222.75 L449.27,220.76 L450.50,220.43 L451.77,221.87 L453.10,222.76 L454.46,221.82 L455.86,220.80 L457.30,220.71 L458.76,220.60 L460.26,220.90 L461.27,221.29 L462.29,221.36 L463.32,220.75 L464.35,219.98 L465.40,219.80 L466.44,219.79 L467.49,219.78 L468.55,219.83 L469.60,220.15 L470.66,220.43 L471.71,220.42 L472.77,220.30 L473.82,220.22 L474.86,220.44 L475.90,221.07 L476.94,221.42 L477.97,221.74 L478.99,222.43 L480.00,222.77 L481.00,221.88 L482.00,220.11 L483.00,219.22 L484.00,219.29 L485.00,219.45 L486.00,219.52 L487.00,219.96 L488.00,220.87 L489.00,221.31 L490.00,221.23 L491.00,221.08 L492.00,221.00 L493.00,221.15 L494.00,221.48 L495.00,221.64 L496.00,221.10 L497.00,220.04 L498.00,219.51 L499.00,219.87 L500.00,220.62 L501.00,220.98 L502.00,220.79 L503.00,220.42 L504.00,220.23 L505.00,219.78 L506.00,218.89 L507.00,218.44 L508.00,219.02 L509.00,220.19 L510.00,220.78 L511.00,220.21 L512.02,219.06 L513.05,218.52 L514.10,219.23 L515.16,220.47 L516.23,220.89 L517.31,220.47 L518.40,219.91 L519.49,219.84 L520.58,219.98 L521.68,220.12 L522.77,220.55 L523.86,221.96 L524.95,222.80 L526.03,222.64 L527.10,222.28 L528.16,222.15 L529.21,221.74 L530.24,221.13 L531.26,220.96 L532.75,220.97 L534.20,220.97 L535.59,220.29 L536.92,219.72 L538.19,220.52 L539.38,221.82 L540.50,222.03 L542.06,221.58 L543.45,221.40 L544.68,220.56 L545.79,219.98 L547.25,219.74 L548.54,219.33 L549.74,219.65 L550.92,220.79 L552.15,221.37 L553.50,221.27 L554.54,221.15 L555.58,221.19 L556.62,221.67 L557.65,222.06 L558.67,221.74 L559.69,220.61 L560.69,219.68 L562.18,219.51 L563.63,219.45 L565.04,219.71 L566.05,220.37 L567.14,220.63 L568.23,220.43 L569.30,220.17 L570.35,220.10 L571.37,220.43 L572.84,220.90 L574.23,220.90 L575.50,220.92 L576.78,220.48 L577.92,219.10 L578.96,218.34 L580.38,217.46 L581.70,216.45 L582.84,216.89 L584.27,218.81 L585.29,219.02 L586.35,218.28 L587.82,217.00 L588.88,216.57 L589.96,216.45 L591.04,216.00 L592.10,214.26 L593.13,211.79 L594.16,210.35 L595.19,210.48 L596.23,211.06 L597.26,210.60 L598.30,209.75 L599.35,208.87 L600.43,207.81 L601.50,206.41 L602.56,205.01 L603.60,204.05 L605.19,203.38 L606.36,202.47 L607.50,201.20 L608.58,199.97 L610.00,198.53 L611.18,197.32 L612.58,195.51 L613.61,193.93 L614.73,191.26 L615.84,188.18 L617.42,186.53 L618.90,192.51 L619.97,201.06 L621.09,212.04 L622.17,223.60 L623.20,236.30 L624.62,247.96 L625.70,250.74 L626.71,249.95 L627.87,247.67 L629.00,245.59 L630.48,242.75 L632.00,240.30 L633.41,240.18 L634.44,240.07 L635.70,239.28 L637.03,238.67 L638.51,238.21 L639.59,237.32 L640.72,236.55 L641.90,235.71 L643.33,233.79 L644.34,232.11 L645.39,230.90 L646.46,229.55 L647.54,228.23 L648.61,227.47 L649.68,227.60 L650.72,227.67 L651.76,226.94 L652.79,225.72 L653.83,224.81 L654.87,224.30 L655.91,223.56 L656.94,223.03 L657.98,223.08 L659.02,223.52 L660.06,223.60 L661.09,222.98 L662.13,222.07 L663.17,221.64 L664.21,222.16 L665.24,223.01 L666.28,223.12 L667.32,222.57 L668.38,221.91 L669.46,221.65 L670.54,221.77 L671.61,221.87 L672.65,221.87 L673.67,222.30 L675.10,222.66 L676.31,222.61 L677.50,222.62 L678.64,222.53 L679.69,221.96 L681.03,221.60 L682.27,221.02 L683.50,220.60 L683.50,222.95" fill="none" stroke="#0d6ffc" stroke-width="2.9" stroke-linejoin="round" stroke-linecap="round"/>
<path d="M296.50,217.34 L297.60,217.08 L298.62,217.10 L299.77,216.96 L300.97,216.22 L302.15,215.01 L303.23,214.03 L304.32,213.53 L305.49,213.39 L306.59,213.29 L307.61,212.90 L309.00,211.80 L310.28,210.58 L311.34,209.84 L312.40,209.53 L313.49,209.77 L314.57,209.97 L315.70,209.50 L316.78,208.03 L317.92,205.70 L319.01,203.35 L320.08,202.15 L321.57,203.09 L322.67,202.57 L323.75,201.29 L324.91,199.66 L326.06,197.98 L327.19,196.49 L328.36,195.24 L329.47,194.12 L330.50,192.71 L331.73,189.42 L332.84,186.44 L333.99,187.24 L335.19,190.98 L336.30,196.30 L337.48,205.57 L338.50,216.82 L339.63,234.21 L340.65,249.70 L342.20,265.63 L343.24,264.82 L344.44,260.50 L345.60,256.34 L346.67,252.42 L347.70,247.68 L349.24,241.41 L350.40,240.71 L351.79,243.33 L352.85,245.11 L353.88,244.63 L355.38,240.80 L356.45,237.97 L357.50,236.10 L358.56,234.62 L359.64,233.21 L360.70,232.05 L361.74,231.27 L362.78,231.12 L363.78,231.18 L364.80,230.84 L365.86,229.90 L366.92,228.78 L367.98,227.75 L368.99,227.06 L370.37,226.57 L371.40,226.29 L372.43,225.93 L373.91,224.94 L374.98,224.19 L376.04,223.74 L377.04,223.92 L378.09,224.51 L379.20,225.00 L380.23,224.90 L381.70,223.95 L382.96,222.91 L384.47,222.30 L385.66,222.31 L386.85,222.44 L388.20,222.91 L389.70,223.48 L390.78,223.60 L391.91,223.48 L393.11,223.32 L394.36,223.47 L395.41,224.08 L396.70,224.79 L398.03,224.60 L399.42,223.20 L400.87,222.23 L402.36,222.90 L403.39,223.77 L404.43,224.18 L405.50,224.01 L406.60,223.69 L407.71,223.44 L408.84,223.29 L410.00,222.94 L411.34,222.60 L412.73,222.73 L414.16,223.33 L415.63,223.50 L417.13,222.85 L418.15,222.36 L419.17,222.21 L420.20,222.29 L421.24,222.45 L422.28,222.53 L423.32,222.40 L424.36,222.03 L425.40,221.68 L426.44,221.57 L427.47,221.43 L428.49,221.25 L429.50,221.14 L430.99,221.87 L432.43,223.40 L433.84,223.62 L435.23,222.56 L436.60,221.64 L437.98,221.77 L439.38,222.28 L440.80,222.48 L442.26,222.94 L443.26,223.32 L444.30,223.43 L445.36,223.11 L446.46,222.57 L447.59,222.25 L448.77,221.97 L450.00,221.33 L451.27,220.95 L452.60,221.15 L453.96,221.57 L455.36,221.66 L456.80,221.49 L458.26,221.34 L459.76,221.50 L460.77,221.78 L461.79,221.95 L462.82,221.89 L463.85,221.61 L464.90,221.33 L465.94,221.24 L466.99,221.22 L468.05,221.21 L469.10,221.20 L470.16,221.23 L471.21,221.38 L472.27,221.50 L473.32,221.52 L474.36,221.50 L475.40,221.48 L476.44,221.47 L477.47,221.49 L478.49,221.55 L479.50,221.60 L480.50,221.58 L481.50,221.43 L482.50,221.21 L483.50,221.08 L484.50,221.28 L485.50,221.96 L486.50,222.64 L487.50,222.83 L488.50,222.48 L489.50,221.89 L490.50,221.47 L491.50,221.50 L492.50,221.97 L493.50,222.52 L494.50,222.75 L495.50,222.57 L496.50,222.16 L497.50,221.82 L498.50,221.70 L499.50,221.28 L500.50,220.69 L501.50,220.35 L502.50,220.41 L503.50,220.66 L504.50,220.90 L505.50,220.98 L506.50,220.97 L507.50,220.96 L508.50,220.96 L509.50,220.85 L510.50,220.28 L511.52,219.60 L512.55,219.32 L513.60,219.80 L514.66,220.79 L515.73,221.51 L516.81,221.65 L517.90,222.00 L518.99,222.34 L520.08,222.40 L521.18,222.04 L522.27,221.55 L523.36,221.36 L524.45,220.91 L525.53,220.01 L526.60,219.41 L527.66,219.70 L528.71,220.86 L529.74,222.01 L530.76,222.31 L532.25,221.33 L533.70,220.30 L535.09,220.43 L536.42,220.98 L537.69,221.27 L538.88,221.54 L540.00,222.02 L541.56,222.34 L542.95,222.30 L544.18,222.26 L545.29,222.32 L546.75,222.47 L548.04,222.61 L549.24,222.58 L550.42,222.07 L551.65,221.57 L553.00,221.68 L554.04,222.11 L555.08,222.46 L556.12,222.43 L557.15,222.02 L558.17,221.48 L559.19,221.15 L560.19,221.17 L561.68,221.61 L563.13,221.70 L564.54,221.45 L565.55,221.25 L566.64,221.13 L567.73,221.06 L568.80,221.00 L569.85,220.94 L570.87,221.02 L572.34,221.67 L573.73,221.98 L575.00,221.22 L576.28,219.89 L577.42,219.35 L578.46,219.49 L579.88,219.95 L581.20,220.00 L582.34,219.62 L583.77,219.08 L584.79,218.84 L585.85,218.87 L587.32,218.95 L588.38,218.48 L589.46,217.77 L590.54,217.02 L591.60,216.26 L592.63,215.35 L593.66,214.17 L594.69,213.00 L595.73,212.09 L596.76,211.57 L597.80,211.17 L598.85,210.45 L599.93,209.32 L601.00,208.02 L602.06,206.78 L603.10,205.62 L604.69,203.15 L605.86,201.56 L607.00,201.00 L608.08,201.51 L609.50,201.52 L610.68,200.10 L612.08,197.64 L613.11,195.27 L614.23,191.85 L615.34,188.07 L616.92,185.83 L618.40,192.25 L619.47,201.34 L620.59,212.57 L621.67,224.63 L622.70,238.15 L624.12,250.26 L625.20,252.88 L626.21,251.63 L627.37,248.82 L628.50,246.45 L629.98,243.51 L631.50,241.26 L632.91,241.20 L633.94,241.53 L635.20,241.30 L636.53,240.03 L638.01,238.24 L639.09,237.20 L640.22,236.21 L641.40,235.24 L642.83,234.03 L643.84,233.40 L644.89,232.75 L645.96,231.85 L647.04,230.88 L648.11,229.99 L649.18,229.20 L650.22,228.48 L651.26,227.76 L652.29,227.15 L653.33,226.73 L654.37,226.43 L655.41,226.19 L656.44,225.93 L657.48,225.63 L658.52,225.31 L659.56,225.02 L660.59,224.82 L661.63,224.76 L662.67,224.76 L663.71,224.67 L664.74,224.43 L665.78,224.11 L666.82,223.80 L667.88,223.53 L668.96,222.93 L670.04,222.28 L671.11,221.96 L672.15,222.03 L673.17,222.26 L674.60,222.38 L675.81,222.45 L677.00,222.65 L678.14,222.79 L679.19,222.54 L680.53,221.77 L681.77,221.69 L683.00,222.74 L683.00,224.05" fill="none" stroke="#14c8cc" stroke-width="2.7" stroke-linejoin="round" stroke-linecap="round"/>
</g>
<text stroke="#14c8cc" stroke-width="0.22" x="395.76" y="195.50" font-family="Liberation Serif" font-size="11.2" fill="#14c8cc">f</text>
<text stroke="#14c8cc" stroke-width="0.22" x="400.78" y="188.80" font-family="Liberation Serif" font-size="8.5" fill="#14c8cc">+</text>
<text stroke="#14c8cc" stroke-width="0.22" x="398.98" y="198.20" font-family="Liberation Serif" font-size="8.8" fill="#14c8cc" letter-spacing="0.844">demod</text>
<text stroke="#14c8cc" stroke-width="0.22" x="427.50" y="195.50" font-family="Liberation Sans" font-size="10.2" fill="#14c8cc" letter-spacing="0.851">=5.6kHz</text>
<text stroke="#0d6ffc" stroke-width="0.22" x="395.76" y="207.60" font-family="Liberation Serif" font-size="11.2" fill="#0d6ffc">f</text>
<text stroke="#0d6ffc" stroke-width="0.22" x="401.28" y="201.20" font-family="Liberation Serif" font-size="8.5" fill="#0d6ffc">&#8722;</text>
<text stroke="#0d6ffc" stroke-width="0.22" x="398.98" y="210.30" font-family="Liberation Serif" font-size="8.8" fill="#0d6ffc" letter-spacing="0.844">demod</text>
<text stroke="#0d6ffc" stroke-width="0.22" x="427.50" y="207.60" font-family="Liberation Sans" font-size="10.2" fill="#0d6ffc" letter-spacing="0.917">=4.6kHz</text>
<rect x="296.5" y="169.05" width="32.3" height="20.55" fill="#f0f0f0" stroke="#000" stroke-width="1.8"/>
<text stroke="#14c8cc" stroke-width="0.22" x="302.92" y="183.80" font-family="Liberation Sans" font-size="12.6" fill="#14c8cc" letter-spacing="0.924">TM</text>
<text stroke="#111" stroke-width="0.12" x="434.10" y="304.20" font-family="Liberation Sans" font-size="12" fill="#111" letter-spacing="0.146">magnetic</text>
<text stroke="#111" stroke-width="0.12" x="490.73" y="304.20" font-family="Liberation Sans" font-size="12" fill="#111" letter-spacing="0.207">field</text>
<text stroke="#111" stroke-width="0.12" x="517.34" y="304.20" font-family="Liberation Sans" font-size="12.2" fill="#111" letter-spacing="1.291">(mT)</text>
<text stroke="#111" stroke-width="0.12" transform="translate(271.10,260.05) rotate(-90)" x="-0.80" y="0" font-family="Liberation Sans" font-size="12" fill="#111" letter-spacing="0.605">norm.</text>
<text stroke="#111" stroke-width="0.12" transform="translate(271.10,222.55) rotate(-90)" x="-0.98" y="0" font-family="Liberation Sans" font-size="12" fill="#111" letter-spacing="1.303">EDMR</text>
<text stroke="#000" stroke-width="0.12" x="252.09" y="307.50" font-family="Liberation Sans" font-size="13" fill="#000" letter-spacing="0.271">(f)</text>
<clipPath id="clipf"><rect x="294.5" y="316.9" width="390.4" height="109.40000000000003"/></clipPath>
<rect x="296.5" y="316.9" width="386.40" height="109.40" fill="none" stroke="#222222" stroke-width="2.1"/>
<path transform="translate(330.37,439.80) scale(0.00508,-0.00508)" d="M763 0L583 0L583 1147C540 1106 483 1065 412 1024C342 983 279 952 223 931L223 1105C324 1152 412 1210 488 1278C563 1346 617 1412 648 1466L763 1466Z" fill="#111" stroke="#111" stroke-width="23.6"/>
<text stroke="#111" stroke-width="0.12" x="326.91" y="439.80" font-family="Liberation Sans" font-size="10.4" fill="#111">-&#8199;0</text>
<text stroke="#111" stroke-width="0.12" x="407.14" y="439.80" font-family="Liberation Sans" font-size="10.4" fill="#111">-5</text>
<text stroke="#111" stroke-width="0.12" x="486.81" y="439.80" font-family="Liberation Sans" font-size="10.4" fill="#111">0</text>
<text stroke="#111" stroke-width="0.12" x="564.14" y="439.80" font-family="Liberation Sans" font-size="10.4" fill="#111">5</text>
<path transform="translate(638.37,439.80) scale(0.00508,-0.00508)" d="M763 0L583 0L583 1147C540 1106 483 1065 412 1024C342 983 279 952 223 931L223 1105C324 1152 412 1210 488 1278C563 1346 617 1412 648 1466L763 1466Z" fill="#111" stroke="#111" stroke-width="23.6"/>
<text stroke="#111" stroke-width="0.12" x="638.37" y="439.80" font-family="Liberation Sans" font-size="10.4" fill="#111">&#8199;0</text>
<path transform="translate(287.12,338.80) scale(0.00508,-0.00508)" d="M763 0L583 0L583 1147C540 1106 483 1065 412 1024C342 983 279 952 223 931L223 1105C324 1152 412 1210 488 1278C563 1346 617 1412 648 1466L763 1466Z" fill="#111" stroke="#111" stroke-width="23.6"/>
<text stroke="#111" stroke-width="0.12" x="287.12" y="338.80" font-family="Liberation Sans" font-size="10.4" fill="#111">&#8199;</text>
<text stroke="#111" stroke-width="0.12" x="287.02" y="375.25" font-family="Liberation Sans" font-size="10.4" fill="#111">0</text>
<path transform="translate(287.12,411.70) scale(0.00508,-0.00508)" d="M763 0L583 0L583 1147C540 1106 483 1065 412 1024C342 983 279 952 223 931L223 1105C324 1152 412 1210 488 1278C563 1346 617 1412 648 1466L763 1466Z" fill="#111" stroke="#111" stroke-width="23.6"/>
<text stroke="#111" stroke-width="0.12" x="283.66" y="411.70" font-family="Liberation Sans" font-size="10.4" fill="#111">-&#8199;</text>
<path d="M335.05,426.3 v-4.6 M335.05,316.9 v4.6 M412.38,426.3 v-4.6 M412.38,316.9 v4.6 M489.70,426.3 v-4.6 M489.70,316.9 v4.6 M567.02,426.3 v-4.6 M567.02,316.9 v4.6 M644.35,426.3 v-4.6 M644.35,316.9 v4.6 M296.5,335.00 h4.4 M682.9,335.00 h-4.4 M296.5,371.45 h4.4 M682.9,371.45 h-4.4 M296.5,407.90 h4.4 M682.9,407.90 h-4.4" stroke="#222222" stroke-width="2.0" fill="none"/>
<g clip-path="url(#clipf)">
<path d="M297.00,367.31 L298.14,366.98 L299.20,366.68 L300.38,366.31 L301.56,365.91 L302.64,365.62 L303.73,365.87 L304.87,367.39 L305.90,368.53 L307.40,368.82 L308.57,367.80 L309.71,365.52 L310.75,362.88 L311.85,361.80 L313.40,363.50 L314.43,362.29 L315.57,359.91 L316.70,356.85 L317.84,353.82 L319.00,351.83 L320.65,350.55 L321.65,350.16 L322.70,350.45 L323.75,351.70 L324.90,352.73 L325.96,352.77 L327.09,351.54 L328.20,350.27 L329.30,349.69 L330.38,348.46 L331.40,345.37 L332.48,339.86 L333.48,335.48 L334.54,334.20 L335.64,335.56 L336.70,340.23 L337.91,352.03 L339.00,365.92 L340.16,382.72 L341.19,397.94 L342.40,408.81 L343.91,406.54 L345.08,402.61 L346.10,399.70 L347.31,396.75 L348.50,393.47 L349.96,390.21 L351.04,388.32 L352.10,386.87 L353.13,385.66 L354.16,384.40 L355.19,382.39 L356.19,379.98 L357.59,377.57 L358.66,376.95 L359.72,376.65 L361.16,375.77 L362.22,375.07 L363.29,374.66 L364.34,375.08 L365.90,375.52 L367.09,374.44 L368.21,373.08 L369.26,372.28 L370.78,371.90 L372.10,373.40 L373.20,373.80 L374.63,372.73 L375.73,371.64 L376.87,370.75 L377.98,369.98 L379.07,369.28 L380.19,368.79 L381.30,368.89 L382.37,369.01 L383.40,368.93 L384.60,368.71 L385.87,368.54 L387.50,368.58 L388.84,369.24 L389.91,369.62 L391.08,369.70 L392.38,369.79 L393.86,369.49 L394.95,368.45 L396.16,367.95 L397.47,367.96 L398.92,367.95 L400.50,369.24 L401.62,370.41 L402.81,370.45 L404.08,370.16 L405.41,370.11 L406.80,370.66 L408.25,370.97 L409.74,370.86 L410.76,370.80 L411.79,370.66 L412.84,370.20 L413.90,369.92 L414.97,370.02 L416.05,370.23 L417.14,370.33 L418.23,370.36 L419.32,370.40 L420.42,370.36 L421.51,369.86 L422.60,369.36 L423.69,369.22 L424.77,368.81 L425.84,368.53 L426.90,369.12 L427.95,370.60 L428.98,371.39 L430.00,371.20 L431.00,370.82 L432.00,370.62 L433.00,370.33 L434.00,369.76 L435.00,369.46 L436.00,369.77 L437.00,370.41 L438.00,370.71 L439.00,370.57 L440.00,370.31 L441.00,370.17 L442.00,370.38 L443.00,370.82 L444.00,371.02 L445.00,371.11 L446.00,371.32 L447.00,371.40 L448.00,371.46 L449.00,371.61 L450.00,371.66 L451.00,371.28 L452.00,370.54 L453.00,370.16 L454.00,370.35 L455.00,370.74 L456.00,370.93 L457.00,370.36 L458.00,369.25 L459.00,368.68 L460.00,368.62 L461.00,368.51 L462.00,368.46 L463.00,368.44 L464.00,368.41 L465.00,368.40 L466.00,368.78 L467.00,369.52 L468.00,369.90 L469.00,370.01 L470.00,370.22 L471.00,370.34 L472.00,370.14 L473.00,369.74 L474.00,369.54 L475.00,369.69 L476.00,369.98 L477.00,370.13 L478.00,370.29 L479.00,370.60 L480.00,370.76 L481.00,370.55 L482.00,370.11 L483.00,369.90 L484.00,369.66 L485.00,369.16 L486.00,368.91 L487.00,369.12 L488.00,369.52 L489.00,369.72 L490.00,369.87 L491.00,370.17 L492.00,370.32 L493.00,370.52 L494.00,370.92 L495.00,371.12 L496.00,371.12 L497.00,371.12 L498.00,371.11 L499.00,370.87 L500.00,370.40 L501.00,370.15 L502.00,370.39 L503.00,370.88 L504.00,371.12 L505.00,370.84 L506.00,370.29 L507.00,370.00 L508.00,370.20 L509.00,370.61 L510.00,370.80 L511.00,370.77 L512.00,370.73 L513.00,370.70 L514.00,371.02 L515.00,371.67 L516.00,371.99 L517.00,371.24 L518.00,369.74 L519.00,368.98 L520.00,368.99 L521.00,369.00 L522.01,369.00 L523.02,369.29 L524.03,369.86 L525.05,370.13 L526.07,370.62 L527.09,371.50 L528.12,371.86 L529.14,371.08 L530.17,369.82 L531.20,369.39 L532.23,369.50 L533.25,369.67 L534.28,369.75 L535.30,370.25 L536.32,370.88 L537.34,371.09 L538.35,371.60 L539.36,372.19 L540.37,372.24 L541.87,370.44 L543.35,369.64 L544.82,370.58 L546.27,371.12 L547.70,371.61 L549.11,371.96 L550.50,371.74 L551.61,371.53 L552.73,371.39 L553.86,370.79 L555.01,370.48 L556.15,370.97 L557.30,371.76 L558.45,371.91 L559.59,371.20 L560.73,370.60 L561.86,370.44 L562.97,369.93 L564.07,369.72 L565.15,370.02 L566.21,370.46 L567.24,370.66 L568.24,371.13 L569.69,371.92 L571.05,371.81 L572.33,371.36 L573.50,371.28 L574.56,371.10 L577.03,370.53 L578.04,369.78 L579.12,368.84 L580.27,368.93 L581.73,370.71 L582.80,371.81 L584.12,372.99 L585.63,371.99 L586.90,370.25 L588.31,369.79 L589.40,370.21 L590.55,370.72 L591.70,371.16 L592.79,371.59 L594.20,371.91 L595.42,372.42 L596.82,372.59 L598.30,370.25 L599.80,366.80 L600.88,365.73 L601.96,365.26 L603.01,364.31 L604.09,363.00 L605.22,361.76 L606.30,360.31 L607.37,358.18 L608.44,355.80 L609.56,353.92 L610.64,352.46 L611.65,350.96 L612.75,349.04 L613.84,347.41 L615.35,342.67 L616.80,334.47 L617.81,334.53 L618.90,339.68 L619.97,348.41 L621.09,359.50 L622.15,371.86 L623.70,391.35 L625.19,399.72 L626.40,401.31 L627.79,400.16 L628.82,398.76 L629.93,397.07 L630.97,395.46 L632.45,393.39 L633.50,392.55 L634.58,391.71 L635.70,390.77 L637.20,390.14 L638.26,390.14 L639.34,389.56 L640.40,389.28 L641.42,388.99 L642.45,387.87 L643.47,385.87 L644.92,382.83 L645.94,381.17 L647.10,379.62 L648.58,378.53 L649.68,377.82 L650.82,377.24 L651.94,376.91 L653.01,376.62 L654.40,375.94 L655.60,374.47 L656.95,372.25 L658.50,371.00 L659.85,370.96 L661.34,371.39 L662.40,371.81 L663.52,372.07 L664.70,372.38 L666.15,372.38 L667.21,371.67 L668.29,370.68 L669.39,370.27 L670.48,370.83 L671.54,371.40 L673.00,371.33 L674.19,371.54 L675.33,371.29 L676.41,370.37 L677.43,369.44 L678.85,369.12 L679.95,369.44 L681.21,369.85 L682.32,369.68 L683.50,369.41 L683.50,369.45" fill="none" stroke="#0d6ffc" stroke-width="2.9" stroke-linejoin="round" stroke-linecap="round"/>
<path d="M296.50,371.27 L297.64,370.74 L298.70,370.11 L299.88,369.52 L301.06,369.20 L302.14,369.05 L303.23,369.09 L304.37,369.42 L305.40,369.56 L306.90,369.03 L308.07,367.72 L309.21,366.04 L310.25,364.57 L311.35,364.14 L312.90,365.11 L313.93,363.37 L315.07,360.97 L316.20,358.29 L317.34,355.41 L318.50,352.86 L320.15,350.27 L321.15,349.88 L322.20,350.43 L323.25,352.29 L324.40,353.52 L325.46,352.72 L326.59,351.01 L327.70,349.33 L328.80,348.06 L329.88,346.75 L330.90,344.90 L331.98,340.85 L332.98,336.74 L334.04,335.86 L335.14,337.62 L336.20,342.24 L337.41,353.42 L338.50,366.81 L339.66,383.66 L340.69,399.29 L341.90,410.53 L343.41,408.49 L344.58,404.69 L345.60,401.50 L346.81,397.75 L348.00,394.28 L349.46,391.45 L350.54,389.73 L351.60,387.77 L352.63,385.57 L353.66,383.67 L354.69,382.43 L355.69,381.85 L357.09,380.86 L358.16,379.69 L359.22,378.89 L360.66,378.27 L361.72,377.85 L362.79,377.11 L363.84,376.28 L365.40,375.36 L366.59,374.99 L367.71,374.64 L368.76,374.10 L370.28,373.10 L371.60,373.90 L372.70,374.30 L374.13,373.77 L375.23,372.96 L376.37,371.82 L377.48,370.95 L378.57,370.57 L379.69,370.59 L380.80,370.70 L381.87,370.82 L382.90,370.89 L384.10,370.73 L385.37,370.48 L387.00,370.48 L388.34,371.10 L389.41,371.65 L390.58,371.77 L391.88,371.14 L393.36,370.45 L394.45,370.55 L395.66,370.92 L396.97,371.26 L398.42,370.99 L400.00,370.09 L401.12,369.91 L402.31,370.55 L403.58,371.53 L404.91,371.82 L406.30,371.45 L407.75,371.07 L409.24,371.26 L410.26,371.62 L411.29,371.89 L412.34,371.89 L413.40,371.70 L414.47,371.49 L415.55,371.42 L416.64,370.99 L417.73,370.31 L418.82,369.96 L419.92,370.32 L421.01,371.19 L422.10,371.84 L423.19,372.00 L424.27,372.40 L425.34,372.81 L426.40,372.90 L427.45,372.45 L428.48,371.78 L429.50,371.39 L430.50,371.36 L431.50,371.30 L432.50,371.24 L433.50,371.21 L434.50,371.26 L435.50,371.35 L436.50,371.41 L437.50,371.30 L438.50,370.78 L439.50,370.17 L440.50,369.89 L441.50,369.92 L442.50,370.01 L443.50,370.08 L444.50,370.07 L445.50,370.03 L446.50,370.00 L447.50,369.96 L448.50,369.96 L449.50,370.01 L450.50,370.06 L451.50,370.06 L452.50,370.05 L453.50,370.06 L454.50,370.06 L455.50,370.12 L456.50,370.47 L457.50,370.88 L458.50,371.06 L459.50,371.28 L460.50,371.81 L461.50,372.26 L462.50,372.31 L463.50,371.91 L464.50,371.35 L465.50,371.03 L466.50,370.96 L467.50,370.73 L468.50,370.50 L469.50,370.44 L470.50,370.50 L471.50,370.60 L472.50,370.68 L473.50,370.74 L474.50,370.95 L475.50,371.20 L476.50,371.32 L477.50,371.44 L478.50,371.69 L479.50,371.90 L480.50,371.91 L481.50,371.44 L482.50,370.78 L483.50,370.40 L484.50,370.27 L485.50,369.85 L486.50,369.42 L487.50,369.30 L488.50,369.54 L489.50,369.94 L490.50,370.22 L491.50,370.34 L492.50,370.81 L493.50,371.36 L494.50,371.59 L495.50,371.49 L496.50,371.27 L497.50,371.07 L498.50,371.02 L499.50,370.96 L500.50,370.87 L501.50,370.82 L502.50,370.93 L503.50,371.31 L504.50,371.70 L505.50,371.80 L506.50,371.56 L507.50,371.14 L508.50,370.85 L509.50,370.93 L510.50,371.55 L511.50,372.28 L512.50,372.60 L513.50,372.27 L514.50,371.54 L515.50,370.92 L516.50,370.81 L517.50,370.92 L518.50,371.08 L519.50,371.18 L520.50,371.11 L521.51,370.88 L522.52,370.65 L523.53,370.58 L524.55,370.46 L525.57,370.24 L526.59,370.10 L527.62,370.21 L528.64,370.65 L529.67,371.11 L530.70,371.26 L531.73,371.11 L532.75,370.85 L533.78,370.69 L534.80,370.79 L535.82,371.26 L536.84,371.75 L537.85,371.92 L538.86,371.66 L539.87,371.17 L541.37,370.79 L542.85,371.34 L544.32,372.11 L545.77,372.06 L547.20,371.37 L548.61,371.04 L550.00,370.75 L551.11,370.37 L552.23,370.26 L553.36,370.77 L554.51,371.63 L555.65,372.10 L556.80,371.78 L557.95,370.97 L559.09,370.49 L560.23,370.64 L561.36,370.99 L562.47,371.27 L563.57,371.50 L564.65,372.22 L565.71,372.96 L566.74,373.21 L567.74,373.06 L569.19,372.65 L570.55,372.59 L571.83,372.51 L573.00,372.41 L574.06,372.42 L576.53,372.31 L577.54,372.15 L578.62,371.39 L579.77,371.21 L581.23,372.80 L582.30,373.76 L583.62,373.57 L585.13,372.36 L586.40,371.92 L587.81,372.13 L588.90,372.40 L590.05,372.64 L591.20,372.91 L592.29,373.16 L593.70,372.72 L594.92,372.16 L596.32,371.54 L597.80,370.08 L599.30,368.35 L600.38,367.36 L601.46,366.43 L602.51,365.21 L603.59,363.81 L604.72,362.42 L605.80,361.01 L606.87,359.46 L607.94,357.78 L609.06,355.96 L610.14,354.05 L611.15,352.05 L612.25,349.69 L613.34,347.30 L614.85,342.17 L616.30,335.41 L617.31,336.30 L618.40,341.77 L619.47,350.81 L620.59,362.02 L621.65,373.52 L623.20,391.06 L624.69,399.97 L625.90,403.21 L627.29,402.49 L628.32,400.25 L629.43,397.86 L630.47,396.40 L631.95,395.11 L633.00,394.40 L634.08,393.68 L635.20,392.83 L636.70,391.51 L637.76,390.58 L638.84,389.73 L639.90,389.24 L640.92,388.83 L641.95,387.95 L642.97,386.46 L644.42,384.16 L645.44,382.70 L646.60,381.40 L648.08,380.27 L649.18,379.74 L650.32,378.86 L651.44,377.29 L652.51,376.06 L653.90,375.43 L655.10,374.65 L656.45,372.96 L658.00,372.64 L659.35,373.95 L660.84,374.30 L661.90,373.66 L663.02,372.90 L664.20,372.69 L665.65,372.25 L666.71,371.87 L667.79,371.65 L668.89,371.96 L669.98,372.38 L671.04,372.32 L672.50,371.07 L673.69,369.77 L674.83,369.20 L675.91,369.58 L676.93,370.28 L678.35,370.52 L679.45,370.30 L680.71,370.24 L681.82,370.52 L683.00,370.58 L683.00,370.55" fill="none" stroke="#14c8cc" stroke-width="2.7" stroke-linejoin="round" stroke-linecap="round"/>
</g>
<text stroke="#14c8cc" stroke-width="0.22" x="384.46" y="344.90" font-family="Liberation Serif" font-size="11.2" fill="#14c8cc">f</text>
<text stroke="#14c8cc" stroke-width="0.22" x="389.48" y="338.20" font-family="Liberation Serif" font-size="8.5" fill="#14c8cc">+</text>
<text stroke="#14c8cc" stroke-width="0.22" x="387.68" y="347.60" font-family="Liberation Serif" font-size="8.8" fill="#14c8cc" letter-spacing="0.844">demod</text>
<path transform="translate(422.63,344.90) scale(0.00498,-0.00498)" d="M763 0L583 0L583 1147C540 1106 483 1065 412 1024C342 983 279 952 223 931L223 1105C324 1152 412 1210 488 1278C563 1346 617 1412 648 1466L763 1466Z" fill="#14c8cc" stroke="#14c8cc" stroke-width="44.2"/>
<path transform="translate(439.44,344.90) scale(0.00498,-0.00498)" d="M763 0L583 0L583 1147C540 1106 483 1065 412 1024C342 983 279 952 223 931L223 1105C324 1152 412 1210 488 1278C563 1346 617 1412 648 1466L763 1466Z" fill="#14c8cc" stroke="#14c8cc" stroke-width="44.2"/>
<text stroke="#14c8cc" stroke-width="0.22" x="415.80" y="344.90" font-family="Liberation Sans" font-size="10.2" fill="#14c8cc" letter-spacing="0.876">=&#8199;0.&#8199;kHz</text>
<text stroke="#0d6ffc" stroke-width="0.22" x="387.46" y="357.40" font-family="Liberation Serif" font-size="11.2" fill="#0d6ffc">f</text>
<text stroke="#0d6ffc" stroke-width="0.22" x="392.98" y="351.00" font-family="Liberation Serif" font-size="8.5" fill="#0d6ffc">&#8722;</text>
<text stroke="#0d6ffc" stroke-width="0.22" x="390.68" y="360.10" font-family="Liberation Serif" font-size="8.8" fill="#0d6ffc" letter-spacing="0.844">demod</text>
<path transform="translate(436.22,357.40) scale(0.00498,-0.00498)" d="M763 0L583 0L583 1147C540 1106 483 1065 412 1024C342 983 279 952 223 931L223 1105C324 1152 412 1210 488 1278C563 1346 617 1412 648 1466L763 1466Z" fill="#0d6ffc" stroke="#0d6ffc" stroke-width="44.2"/>
<text stroke="#0d6ffc" stroke-width="0.22" x="419.30" y="357.40" font-family="Liberation Sans" font-size="10.2" fill="#0d6ffc" letter-spacing="0.817">=0.&#8199;kHz</text>
<rect x="296.5" y="318.05" width="32.5" height="20.3" fill="#f0f0f0" stroke="#000" stroke-width="1.8"/>
<text stroke="#14c8cc" stroke-width="0.22" x="302.92" y="333.50" font-family="Liberation Sans" font-size="12.6" fill="#14c8cc" letter-spacing="0.924">TM</text>
<text stroke="#111" stroke-width="0.12" x="434.10" y="454.50" font-family="Liberation Sans" font-size="12" fill="#111" letter-spacing="0.146">magnetic</text>
<text stroke="#111" stroke-width="0.12" x="490.73" y="454.50" font-family="Liberation Sans" font-size="12" fill="#111" letter-spacing="0.207">field</text>
<text stroke="#111" stroke-width="0.12" x="517.34" y="454.50" font-family="Liberation Sans" font-size="12.2" fill="#111" letter-spacing="1.291">(mT)</text>
<text stroke="#111" stroke-width="0.12" transform="translate(271.10,410.05) rotate(-90)" x="-0.80" y="0" font-family="Liberation Sans" font-size="12" fill="#111" letter-spacing="0.605">norm.</text>
<text stroke="#111" stroke-width="0.12" transform="translate(271.10,372.55) rotate(-90)" x="-0.98" y="0" font-family="Liberation Sans" font-size="12" fill="#111" letter-spacing="1.303">EDMR</text>
</svg>
</body></html>
